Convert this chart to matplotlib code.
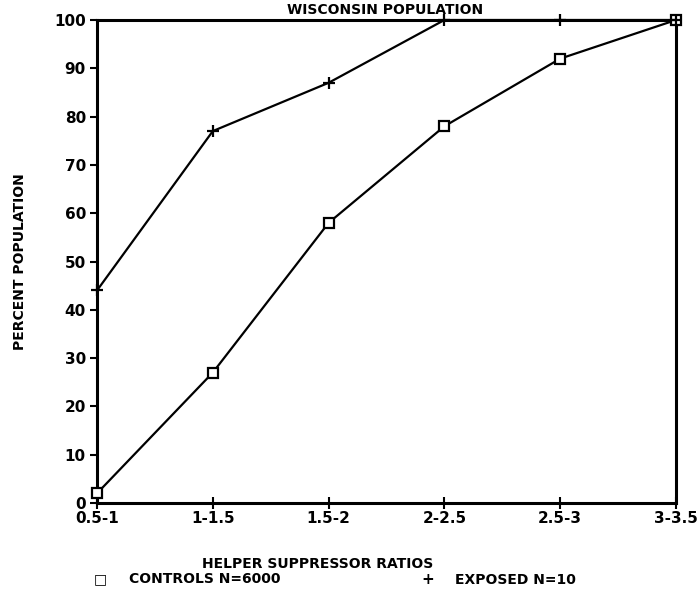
import matplotlib
matplotlib.use("Agg")
import matplotlib.pyplot as plt

categories = ["0.5-1", "1-1.5", "1.5-2", "2-2.5", "2.5-3", "3-3.5"]
controls = [2, 27, 58, 78, 92, 100]
exposed = [44, 77, 87, 100, 100, 100]
yticks = [0, 10, 20, 30, 40, 50, 60, 70, 80, 90, 100]

plt.rcParams['font.family'] = ['Liberation Sans Narrow', 'DejaVu Sans']
plt.rcParams['font.weight'] = 'bold'

fig = plt.figure(figsize=(7.0, 5.94), dpi=100)
ax = fig.add_axes([97/700, 91/594, 579/700, 483/594])

x = list(range(len(categories)))
ax.plot(x, controls, color='black', lw=1.6, marker='s', ms=6.5,
        mfc='white', mec='black', mew=1.6, clip_on=False, zorder=3)
ax.plot(x, exposed, color='black', lw=1.6, marker='+', ms=9,
        mew=1.6, clip_on=False, zorder=3)

ax.set_xlim(0, len(categories) - 1)
ax.set_ylim(0, 100)
ax.set_xticks(x)
ax.set_xticklabels(categories, fontsize=11, fontweight='bold')
ax.set_yticks(yticks)
ax.set_yticklabels([str(v) for v in yticks], fontsize=11, fontweight='bold')
ax.tick_params(axis='y', direction='out', length=5, width=1.5, pad=3)
ax.tick_params(axis='x', direction='inout', length=8, width=1.5, pad=2)
for s in ax.spines.values():
    s.set_linewidth(2.2)

fig.text(385/700, 1 - 10/594, "WISCONSIN POPULATION", ha='center', va='center',
         fontsize=10, fontweight='bold')
fig.text(20/700, 1 - 262/594, "PERCENT POPULATION", ha='center', va='center',
         rotation=90, fontsize=10, fontweight='bold')
fig.text(318/700, 1 - 564/594, "HELPER SUPPRESSOR RATIOS", ha='center', va='center',
         fontsize=10, fontweight='bold')
fig.text(100/700, 1 - 579/594, "\u25a1", ha='center', va='center',
         fontsize=10, fontweight='bold', family=['DejaVu Sans'])
fig.text(129/700, 1 - 579/594, "CONTROLS N=6000", ha='left', va='center',
         fontsize=10, fontweight='bold')
fig.text(428/700, 1 - 580/594, "+", ha='center', va='center',
         fontsize=11, fontweight='bold')
fig.text(455/700, 1 - 580/594, "EXPOSED N=10", ha='left', va='center',
         fontsize=10, fontweight='bold')

fig.savefig("out.png", dpi=100, facecolor='white')
